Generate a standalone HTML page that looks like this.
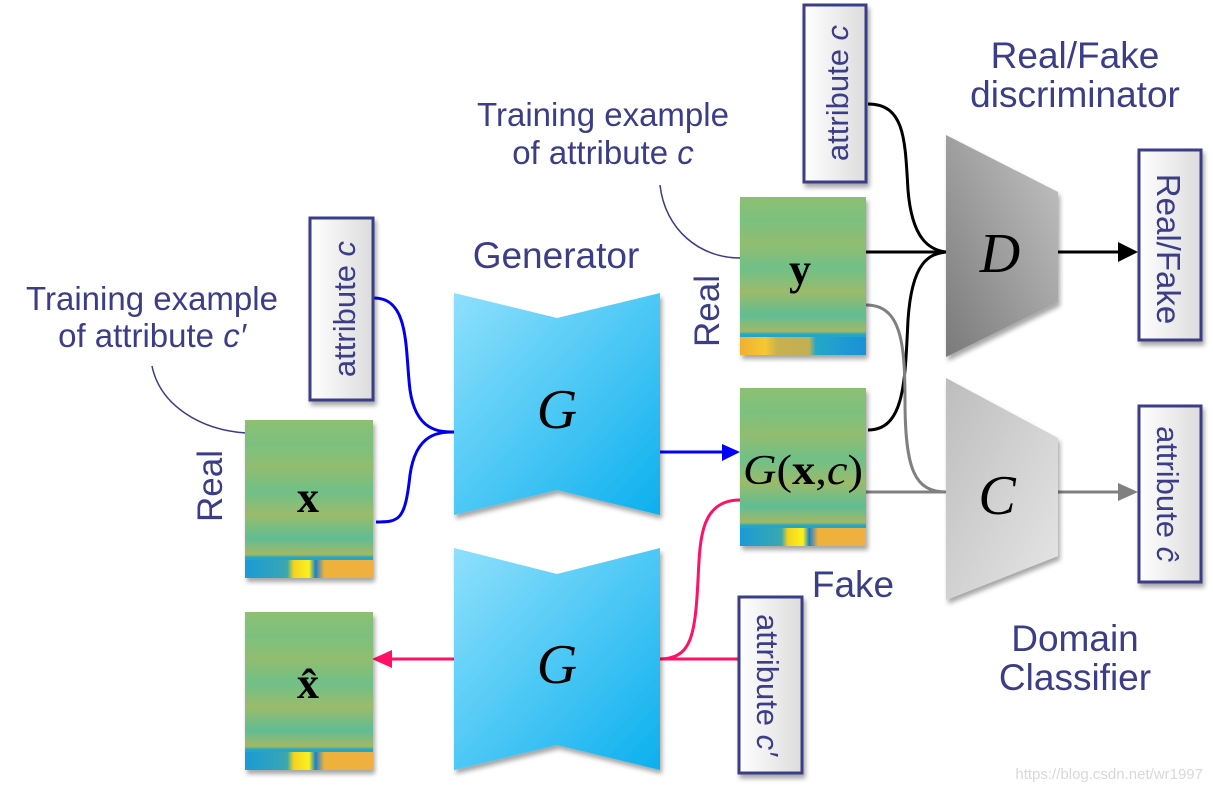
<!DOCTYPE html>
<html><head><meta charset="utf-8"><style>
html,body{margin:0;padding:0;background:#fff;}
svg{display:block;}
.t{font-family:"Liberation Sans",sans-serif;fill:#3b3d86;}
.m{font-family:"Liberation Serif",serif;fill:#000;}
</style></head><body>
<svg width="1213" height="789" viewBox="0 0 1213 789" xmlns="http://www.w3.org/2000/svg">
<defs>
<linearGradient id="gb" x1="0" y1="0" x2="1" y2="1"><stop offset="0" stop-color="#8fe0fc"/><stop offset="1" stop-color="#0bb0ee"/></linearGradient>
<linearGradient id="gd" x1="1" y1="0" x2="0" y2="1"><stop offset="0" stop-color="#c4c4c4"/><stop offset="1" stop-color="#7a7a7a"/></linearGradient>
<linearGradient id="gc" x1="0" y1="0" x2="1" y2="1"><stop offset="0" stop-color="#bdbdbd"/><stop offset="1" stop-color="#e6e6e6"/></linearGradient>
<linearGradient id="box" x1="0" y1="0" x2="1" y2="0"><stop offset="0" stop-color="#ffffff"/><stop offset="1" stop-color="#dcdcdc"/></linearGradient>
<linearGradient id="spec" x1="0" y1="0" x2="0" y2="1">
<stop offset="0" stop-color="#8dbf72"/><stop offset="0.15" stop-color="#7cc07e"/><stop offset="0.3" stop-color="#91bd70"/><stop offset="0.45" stop-color="#6fc088"/><stop offset="0.6" stop-color="#9bbb6a"/><stop offset="0.75" stop-color="#5fbd94"/><stop offset="0.85" stop-color="#a4b865"/><stop offset="0.87" stop-color="#22a7c8"/><stop offset="1" stop-color="#1a9fd0"/></linearGradient>
<linearGradient id="strip1" x1="0" y1="0" x2="1" y2="0"><stop offset="0" stop-color="#1b9ad6"/><stop offset="0.33" stop-color="#3aa8b0"/><stop offset="0.38" stop-color="#f5d21a"/><stop offset="0.5" stop-color="#fbf21a"/><stop offset="0.55" stop-color="#1b80d0"/><stop offset="0.62" stop-color="#eeb23a"/><stop offset="1" stop-color="#eeb040"/></linearGradient>
<linearGradient id="strip2" x1="0" y1="0" x2="1" y2="0"><stop offset="0" stop-color="#f0b030"/><stop offset="0.2" stop-color="#f5c830"/><stop offset="0.3" stop-color="#c8b050"/><stop offset="0.55" stop-color="#c0b055"/><stop offset="0.6" stop-color="#25a8c8"/><stop offset="1" stop-color="#1a90d8"/></linearGradient>
<filter id="sh" x="-10%" y="-10%" width="130%" height="130%"><feDropShadow dx="2" dy="4" stdDeviation="2.5" flood-color="#000" flood-opacity="0.35"/></filter>
</defs>

<!-- connectors -->
<path d="M374,298 C410,298 405,350 410,390 C416,432 440,432 455,432 C440,432 416,432 410,475 C405,520 400,522 376,522" fill="none" stroke="#0000ee" stroke-width="3"/>
<path d="M660,452 L722,452" stroke="#0000ff" stroke-width="3"/>
<path d="M722,444 L740,452 L722,461z" fill="#0000ff"/>
<path d="M868,104 C905,104 905,140 908,190 C912,240 930,250 946,252 M866,252 L946,252 M868,430 C905,430 905,380 908,320 C912,260 930,254 946,252" fill="none" stroke="#000" stroke-width="3"/>
<path d="M1058,252 L1120,252" stroke="#000" stroke-width="3"/>
<path d="M1118,242 L1138,252 L1118,262z" fill="#000"/>
<path d="M866,305 C900,305 905,340 905,400 C905,470 915,492 946,492 M866,492 L946,492" fill="none" stroke="#808080" stroke-width="3"/>
<path d="M1058,492 L1120,492" stroke="#808080" stroke-width="3"/>
<path d="M1118,483 L1138,492 L1118,501z" fill="#808080"/>
<path d="M740,500 C700,500 700,540 698,580 C695,640 690,658 660,659 L738,659" fill="none" stroke="#ff1166" stroke-width="3"/>
<path d="M455,659 L390,659" stroke="#ff1166" stroke-width="3"/>
<path d="M392,650 L372,659 L392,668z" fill="#ff1166"/>
<path d="M740,258 C700,258 665,230 660,185" fill="none" stroke="#3b3d86" stroke-width="1.5"/>
<path d="M246,433 C200,430 160,405 152,366" fill="none" stroke="#3b3d86" stroke-width="1.5"/>

<!-- generators -->
<path d="M454,293 L557,318 L660,293 L660,515 L557,490 L454,515z" fill="url(#gb)" filter="url(#sh)"/>
<path d="M454,548 L557,574 L660,548 L660,770 L557,745 L454,770z" fill="url(#gb)" filter="url(#sh)"/>
<text x="557" y="428" text-anchor="middle" class="m" font-size="56" font-style="italic">G</text>
<text x="557" y="683" text-anchor="middle" class="m" font-size="56" font-style="italic">G</text>

<!-- D and C -->
<path d="M946,135 L1058,192 L1058,302 L946,357z" fill="url(#gd)" filter="url(#sh)"/>
<path d="M946,378 L1058,438 L1058,556 L946,600z" fill="url(#gc)" filter="url(#sh)"/>
<text x="1000" y="272" text-anchor="middle" class="m" font-size="56" font-style="italic">D</text>
<text x="997" y="514" text-anchor="middle" class="m" font-size="56" font-style="italic">C</text>

<!-- spectrograms -->
<g filter="url(#sh)">
<rect x="245" y="420" width="128" height="158" fill="url(#spec)"/>
<rect x="245" y="560" width="128" height="18" fill="url(#strip1)"/>
<rect x="245" y="612" width="128" height="158" fill="url(#spec)"/>
<rect x="245" y="752" width="128" height="18" fill="url(#strip1)"/>
<rect x="740" y="197" width="126" height="158" fill="url(#spec)"/>
<rect x="740" y="337" width="126" height="18" fill="url(#strip2)"/>
<rect x="740" y="388" width="126" height="158" fill="url(#spec)"/>
<rect x="740" y="528" width="126" height="18" fill="url(#strip1)"/>
</g>
<text x="308" y="512" text-anchor="middle" class="m" font-size="44" font-weight="bold">x</text>
<text x="308" y="698" text-anchor="middle" class="m" font-size="44" font-weight="bold">x̂</text>
<text x="800" y="284" text-anchor="middle" class="m" font-size="44" font-weight="bold">y</text>
<text x="803" y="484" text-anchor="middle" class="m" font-size="42" textLength="120" lengthAdjust="spacingAndGlyphs"><tspan font-style="italic">G</tspan>(<tspan font-weight="bold">x</tspan>,<tspan font-style="italic">c</tspan>)</text>

<!-- boxes -->
<g filter="url(#sh)" stroke="#3b3d86" stroke-width="3" fill="url(#box)">
<rect x="310" y="218" width="63" height="182"/>
<rect x="804" y="5" width="62" height="177"/>
<rect x="1139" y="150" width="62" height="190"/>
<rect x="1139" y="406" width="62" height="176"/>
<rect x="739" y="597" width="63" height="176"/>
</g>
<text transform="translate(355,309) rotate(-90)" text-anchor="middle" class="t" font-size="31">attribute <tspan font-style="italic">c</tspan></text>
<text transform="translate(848,93) rotate(-90)" text-anchor="middle" class="t" font-size="31">attribute <tspan font-style="italic">c</tspan></text>
<text transform="translate(1157,249) rotate(90)" text-anchor="middle" class="t" font-size="33">Real/Fake</text>
<text transform="translate(1157,494) rotate(90)" text-anchor="middle" class="t" font-size="31">attribute <tspan font-style="italic">ĉ</tspan></text>
<text transform="translate(757,685) rotate(90)" text-anchor="middle" class="t" font-size="31">attribute <tspan font-style="italic">c′</tspan></text>

<!-- labels -->
<text x="152" y="310" text-anchor="middle" class="t" font-size="33">Training example</text>
<text x="152" y="347" text-anchor="middle" class="t" font-size="33">of attribute <tspan font-style="italic">c′</tspan></text>
<text x="603" y="126" text-anchor="middle" class="t" font-size="33">Training example</text>
<text x="603" y="164" text-anchor="middle" class="t" font-size="33">of attribute <tspan font-style="italic">c</tspan></text>
<text x="556" y="268" text-anchor="middle" class="t" font-size="37">Generator</text>
<text x="1075" y="68" text-anchor="middle" class="t" font-size="37">Real/Fake</text>
<text x="1075" y="107" text-anchor="middle" class="t" font-size="37">discriminator</text>
<text x="1075" y="651" text-anchor="middle" class="t" font-size="37">Domain</text>
<text x="1075" y="690" text-anchor="middle" class="t" font-size="37">Classifier</text>
<text x="853" y="597" text-anchor="middle" class="t" font-size="37">Fake</text>
<text transform="translate(222,486) rotate(-90)" text-anchor="middle" class="t" font-size="35">Real</text>
<text transform="translate(719,311) rotate(-90)" text-anchor="middle" class="t" font-size="35">Real</text>
<text x="1203" y="779" text-anchor="end" font-family="Liberation Sans,sans-serif" font-size="15" fill="#d8d8d8">https://blog.csdn.net/wr1997</text>
</svg>
</body></html>
